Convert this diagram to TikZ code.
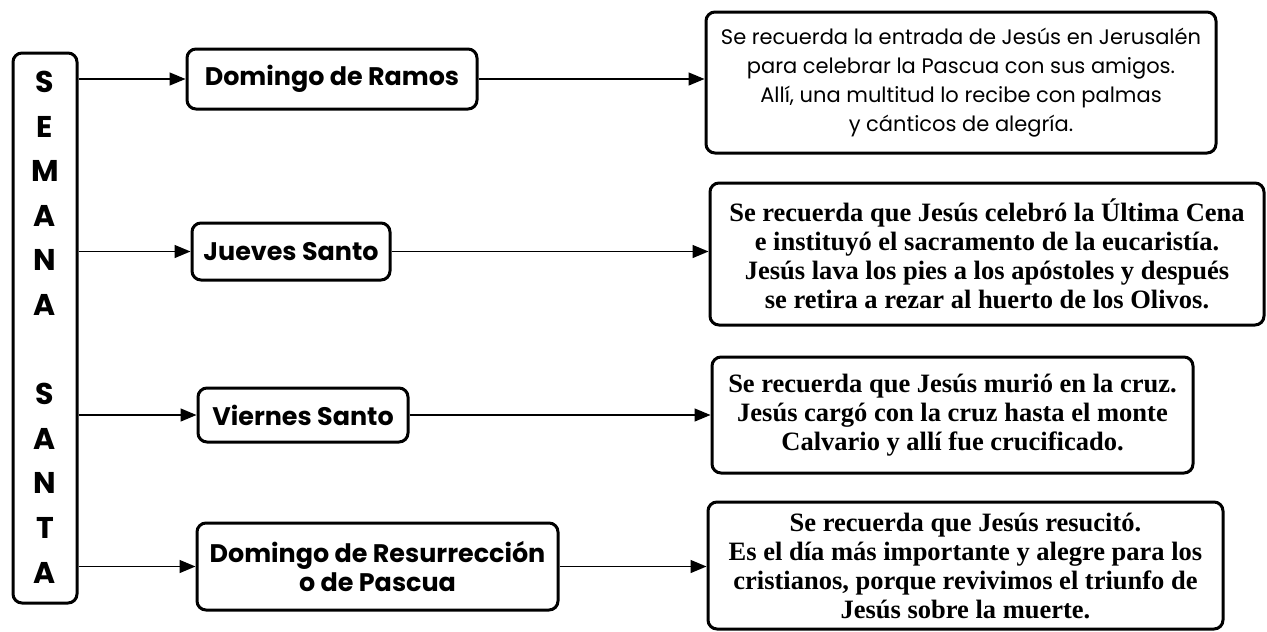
\documentclass[tikz,border=0pt]{standalone}
\usepackage{fontspec}
\usetikzlibrary{arrows.meta}
\newfontfamily\gothic{Poppins}
\newfontfamily\garamond{Liberation Serif}
\def\letras{\gothic\bfseries\fontsize{30}{30}\selectfont}
\def\gotica{\gothic\fontsize{21}{29}\selectfont}
\def\serifa{\garamond\bfseries\fontsize{26.5}{29}\selectfont}
\tikzset{
  caja/.style={draw, line width=3pt, rounded corners=9pt, inner sep=0pt},
  dia/.style={caja, align=center, font=\gothic\bfseries\fontsize{25.4}{29}\selectfont},
  nota/.style={caja, align=center},
  flecha/.style={line width=1.4pt, -{Triangle[length=16pt,width=13pt]}}
}

\begin{document}
\begin{tikzpicture}[x=1pt,y=-1pt]
\useasboundingbox (0,0) rectangle (1267,632);
% columna
\node[caja, minimum width=64pt, minimum height=550pt] (semana) at (45,328) {};
\foreach \i/\ch in {0/S,1/E,2/M,3/A,4/N,5/A,7/S,8/A,9/N,10/T,11/A}
  \node[font=\letras] (letra\i) at (45,{82+44.6*\i}) {\ch};
% dias
\node[dia, minimum width=290pt, minimum height=60pt] (ramos) at (332,79) {Domingo de Ramos};
\node[dia, minimum width=198pt, minimum height=57pt] (jueves) at (291,251.5) {Jueves Santo};
\node[dia, minimum width=210pt, minimum height=54pt] (viernes) at (303,415) {Viernes Santo};
\node[dia, minimum width=361pt, minimum height=87pt] (pascua) at (377.5,566.5) {Domingo de Resurrección\\o de Pascua};
% notas
\node[nota, font=\gotica, minimum width=510pt, minimum height=141pt] (r1) at (961,82.5)
  {Se recuerda la entrada de Jesús en Jerusalén\\para celebrar la Pascua con sus amigos.\\Allí, una multitud lo recibe con palmas\\y cánticos de alegría.};
\node[nota, font=\serifa, minimum width=554pt, minimum height=142pt] (r2) at (987,254)
  {Se recuerda que Jesús celebró la Última Cena\\e instituyó el sacramento de la eucaristía.\\Jesús lava los pies a los apóstoles y después\\se retira a rezar al huerto de los Olivos.};
\node[nota, font=\serifa, minimum width=481pt, minimum height=116pt] (r3) at (952.5,415)
  {Se recuerda que Jesús murió en la cruz.\\Jesús cargó con la cruz hasta el monte\\Calvario y allí fue crucificado.};
\node[nota, font=\serifa, minimum width=515pt, minimum height=127pt] (r4) at (965.5,565.5)
  {Se recuerda que Jesús resucitó.\\Es el día más importante y alegre para los\\cristianos, porque revivimos el triunfo de\\Jesús sobre la muerte.};
% flechas
\foreach \m in {ramos,jueves,viernes,pascua}
  \draw[flecha] (semana.east |- \m.west) -- (\m.west);
\foreach \m/\r in {ramos/r1,jueves/r2,viernes/r3,pascua/r4}
  \draw[flecha] (\m.east) -- (\m.east -| \r.west);
\end{tikzpicture}
\end{document}
